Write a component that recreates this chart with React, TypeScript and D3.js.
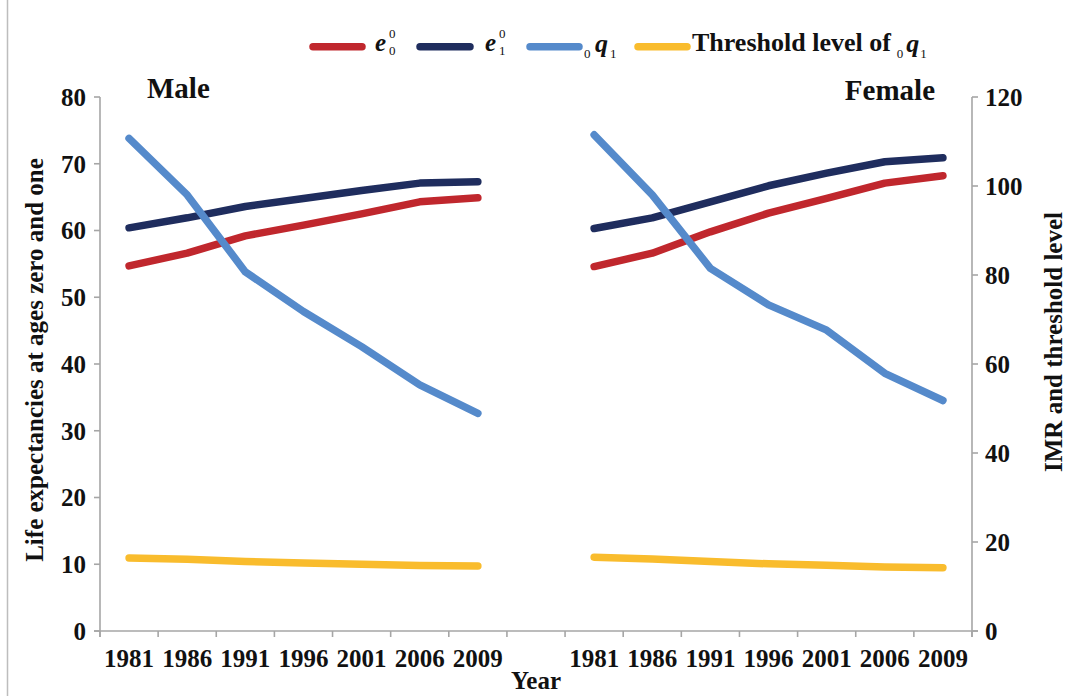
import React from "react";
import * as d3 from "d3";

const years = ["1981", "1986", "1991", "1996", "2001", "2006", "2009"];
const maleE0 = [54.7, 56.6, 59.2, 60.8, 62.5, 64.3, 64.9];
const maleE1 = [60.4, 61.9, 63.6, 64.8, 66.0, 67.1, 67.3];
const maleQ1 = [110.7, 98.0, 80.7, 71.8, 63.9, 55.3, 48.9];
const maleThr = [16.4, 16.1, 15.6, 15.3, 15.0, 14.7, 14.6];
const femaleE0 = [54.6, 56.6, 59.8, 62.6, 64.8, 67.1, 68.2];
const femaleE1 = [60.3, 61.9, 64.3, 66.7, 68.6, 70.3, 70.9];
const femaleQ1 = [111.5, 98.0, 81.5, 73.3, 67.6, 57.9, 51.8];
const femaleThr = [16.6, 16.2, 15.6, 15.1, 14.8, 14.4, 14.2];
const leftTicks = [0, 10, 20, 30, 40, 50, 60, 70, 80];
const rightTicks = [0, 20, 40, 60, 80, 100, 120];

const COLORS = { e0: "#C0272D", e1: "#1F2D5E", q1: "#558ACB", thr: "#F9BC2D" };
const FONT = "'Liberation Serif', 'Times New Roman', serif";
const AXIS = "#A6A6A6";

const keys = [...years.map((y) => "M" + y), "gap", ...years.map((y) => "F" + y)];

export default function App() {
  const left = 100, right = 972, top = 97, bottom = 631;
  const x = d3.scaleBand<string>().domain(keys).range([left, right]).paddingInner(0).paddingOuter(0);
  const yL = d3.scaleLinear().domain([0, 80]).range([bottom, top]);
  const yR = d3.scaleLinear().domain([0, 120]).range([bottom, top]);
  const cx = (k: string) => (x(k) as number) + x.bandwidth() / 2;

  const mk = (prefix: string, vals: number[], scale: d3.ScaleLinear<number, number>) => {
    const line = d3
      .line<number>()
      .x((_, i) => cx(prefix + years[i]))
      .y((v) => scale(v));
    return line(vals) || "";
  };

  const series = [
    { p: "M", v: maleThr, s: yR, c: COLORS.thr },
    { p: "F", v: femaleThr, s: yR, c: COLORS.thr },
    { p: "M", v: maleE0, s: yL, c: COLORS.e0 },
    { p: "F", v: femaleE0, s: yL, c: COLORS.e0 },
    { p: "M", v: maleE1, s: yL, c: COLORS.e1 },
    { p: "F", v: femaleE1, s: yL, c: COLORS.e1 },
    { p: "M", v: maleQ1, s: yR, c: COLORS.q1 },
    { p: "F", v: femaleQ1, s: yR, c: COLORS.q1 },
  ];

  const boundaries = [...keys.map((k) => x(k) as number), right];
  const legY = 46.7;
  const sw = 7.5;

  return (
    <svg
      width={1070}
      height={696}
      style={{ position: "absolute", left: 0, top: 0, background: "#fff" }}
      fontFamily={FONT}
      fontWeight="bold"
    >
      <rect x={0} y={0} width={1070} height={696} fill="#fff" />
      <line x1={7.5} x2={7.5} y1={0} y2={696} stroke="#BDBDBD" strokeWidth={1.5} />

      {/* axes */}
      <line x1={left} x2={left} y1={top} y2={bottom + 6} stroke={AXIS} strokeWidth={1.6} />
      <line x1={right} x2={right} y1={top} y2={bottom + 6} stroke={AXIS} strokeWidth={1.6} />
      <line x1={left - 6} x2={right + 6} y1={bottom} y2={bottom} stroke={AXIS} strokeWidth={1.6} />
      {leftTicks.map((t) => (
        <g key={"l" + t}>
          <line x1={left - 6} x2={left} y1={yL(t)} y2={yL(t)} stroke={AXIS} strokeWidth={1.6} />
          <text x={86} y={yL(t)} dy="0.35em" textAnchor="end" fontSize={25} fill="#111">
            {t}
          </text>
        </g>
      ))}
      {rightTicks.map((t) => (
        <g key={"r" + t}>
          <line x1={right} x2={right + 6} y1={yR(t)} y2={yR(t)} stroke={AXIS} strokeWidth={1.6} />
          <text x={985} y={yR(t)} dy="0.35em" textAnchor="start" fontSize={25} fill="#111">
            {t}
          </text>
        </g>
      ))}
      {boundaries.map((b, i) => (
        <line key={"b" + i} x1={b} x2={b} y1={bottom} y2={bottom + 6} stroke={AXIS} strokeWidth={1.6} />
      ))}
      {keys.map((k) =>
        k === "gap" ? null : (
          <text key={"x" + k} x={cx(k)} y={667} textAnchor="middle" fontSize={25} fill="#111">
            {k.slice(1)}
          </text>
        )
      )}
      <text x={cx("gap")} y={689} textAnchor="middle" fontSize={25} fill="#111">
        Year
      </text>

      <text transform="translate(43,360) rotate(-90)" textAnchor="middle" fontSize={25} fill="#111">
        Life expectancies at ages zero and one
      </text>
      <text transform="translate(1062,342) rotate(-90)" textAnchor="middle" fontSize={25} fill="#111">
        IMR and threshold level
      </text>

      <text x={147} y={98} fontSize={29} fill="#111">Male</text>
      <text x={935} y={100} fontSize={29} textAnchor="end" fill="#111">Female</text>

      {/* lines */}
      {series.map((s, i) => (
        <path
          key={"s" + i}
          d={mk(s.p, s.v, s.s)}
          fill="none"
          stroke={s.c}
          strokeWidth={sw}
          strokeLinecap="round"
          strokeLinejoin="round"
        />
      ))}

      {/* legend */}
      <g fill="#111">
        <line x1={313} x2={362} y1={legY} y2={legY} stroke={COLORS.e0} strokeWidth={sw} strokeLinecap="round" />
        <text x={375} y={51} fontSize={25} fontStyle="italic">e</text>
        <text x={389} y={38} fontSize={13} fontWeight="normal">0</text>
        <text x={389} y={55} fontSize={13} fontWeight="normal">0</text>

        <line x1={420} x2={470} y1={legY} y2={legY} stroke={COLORS.e1} strokeWidth={sw} strokeLinecap="round" />
        <text x={485} y={51} fontSize={25} fontStyle="italic">e</text>
        <text x={499} y={38} fontSize={13} fontWeight="normal">0</text>
        <text x={499} y={55} fontSize={13} fontWeight="normal">1</text>

        <line x1={530} x2={579} y1={legY} y2={legY} stroke={COLORS.q1} strokeWidth={sw} strokeLinecap="round" />
        <text x={584} y={58} fontSize={13} fontWeight="normal">0</text>
        <text x={595} y={52} fontSize={26} fontStyle="italic">q</text>
        <text x={610} y={58} fontSize={13} fontWeight="normal">1</text>

        <line x1={638} x2={687} y1={legY} y2={legY} stroke={COLORS.thr} strokeWidth={sw} strokeLinecap="round" />
        <text x={692} y={51} fontSize={26}>
          Threshold level of
          <tspan dx={6} dy={7} fontSize={13} fontWeight="normal">0</tspan>
          <tspan dx={3} dy={-6} fontSize={26} fontStyle="italic">q</tspan>
          <tspan dx={1} dy={6} fontSize={13} fontWeight="normal">1</tspan>
        </text>
      </g>
    </svg>
  );
}
